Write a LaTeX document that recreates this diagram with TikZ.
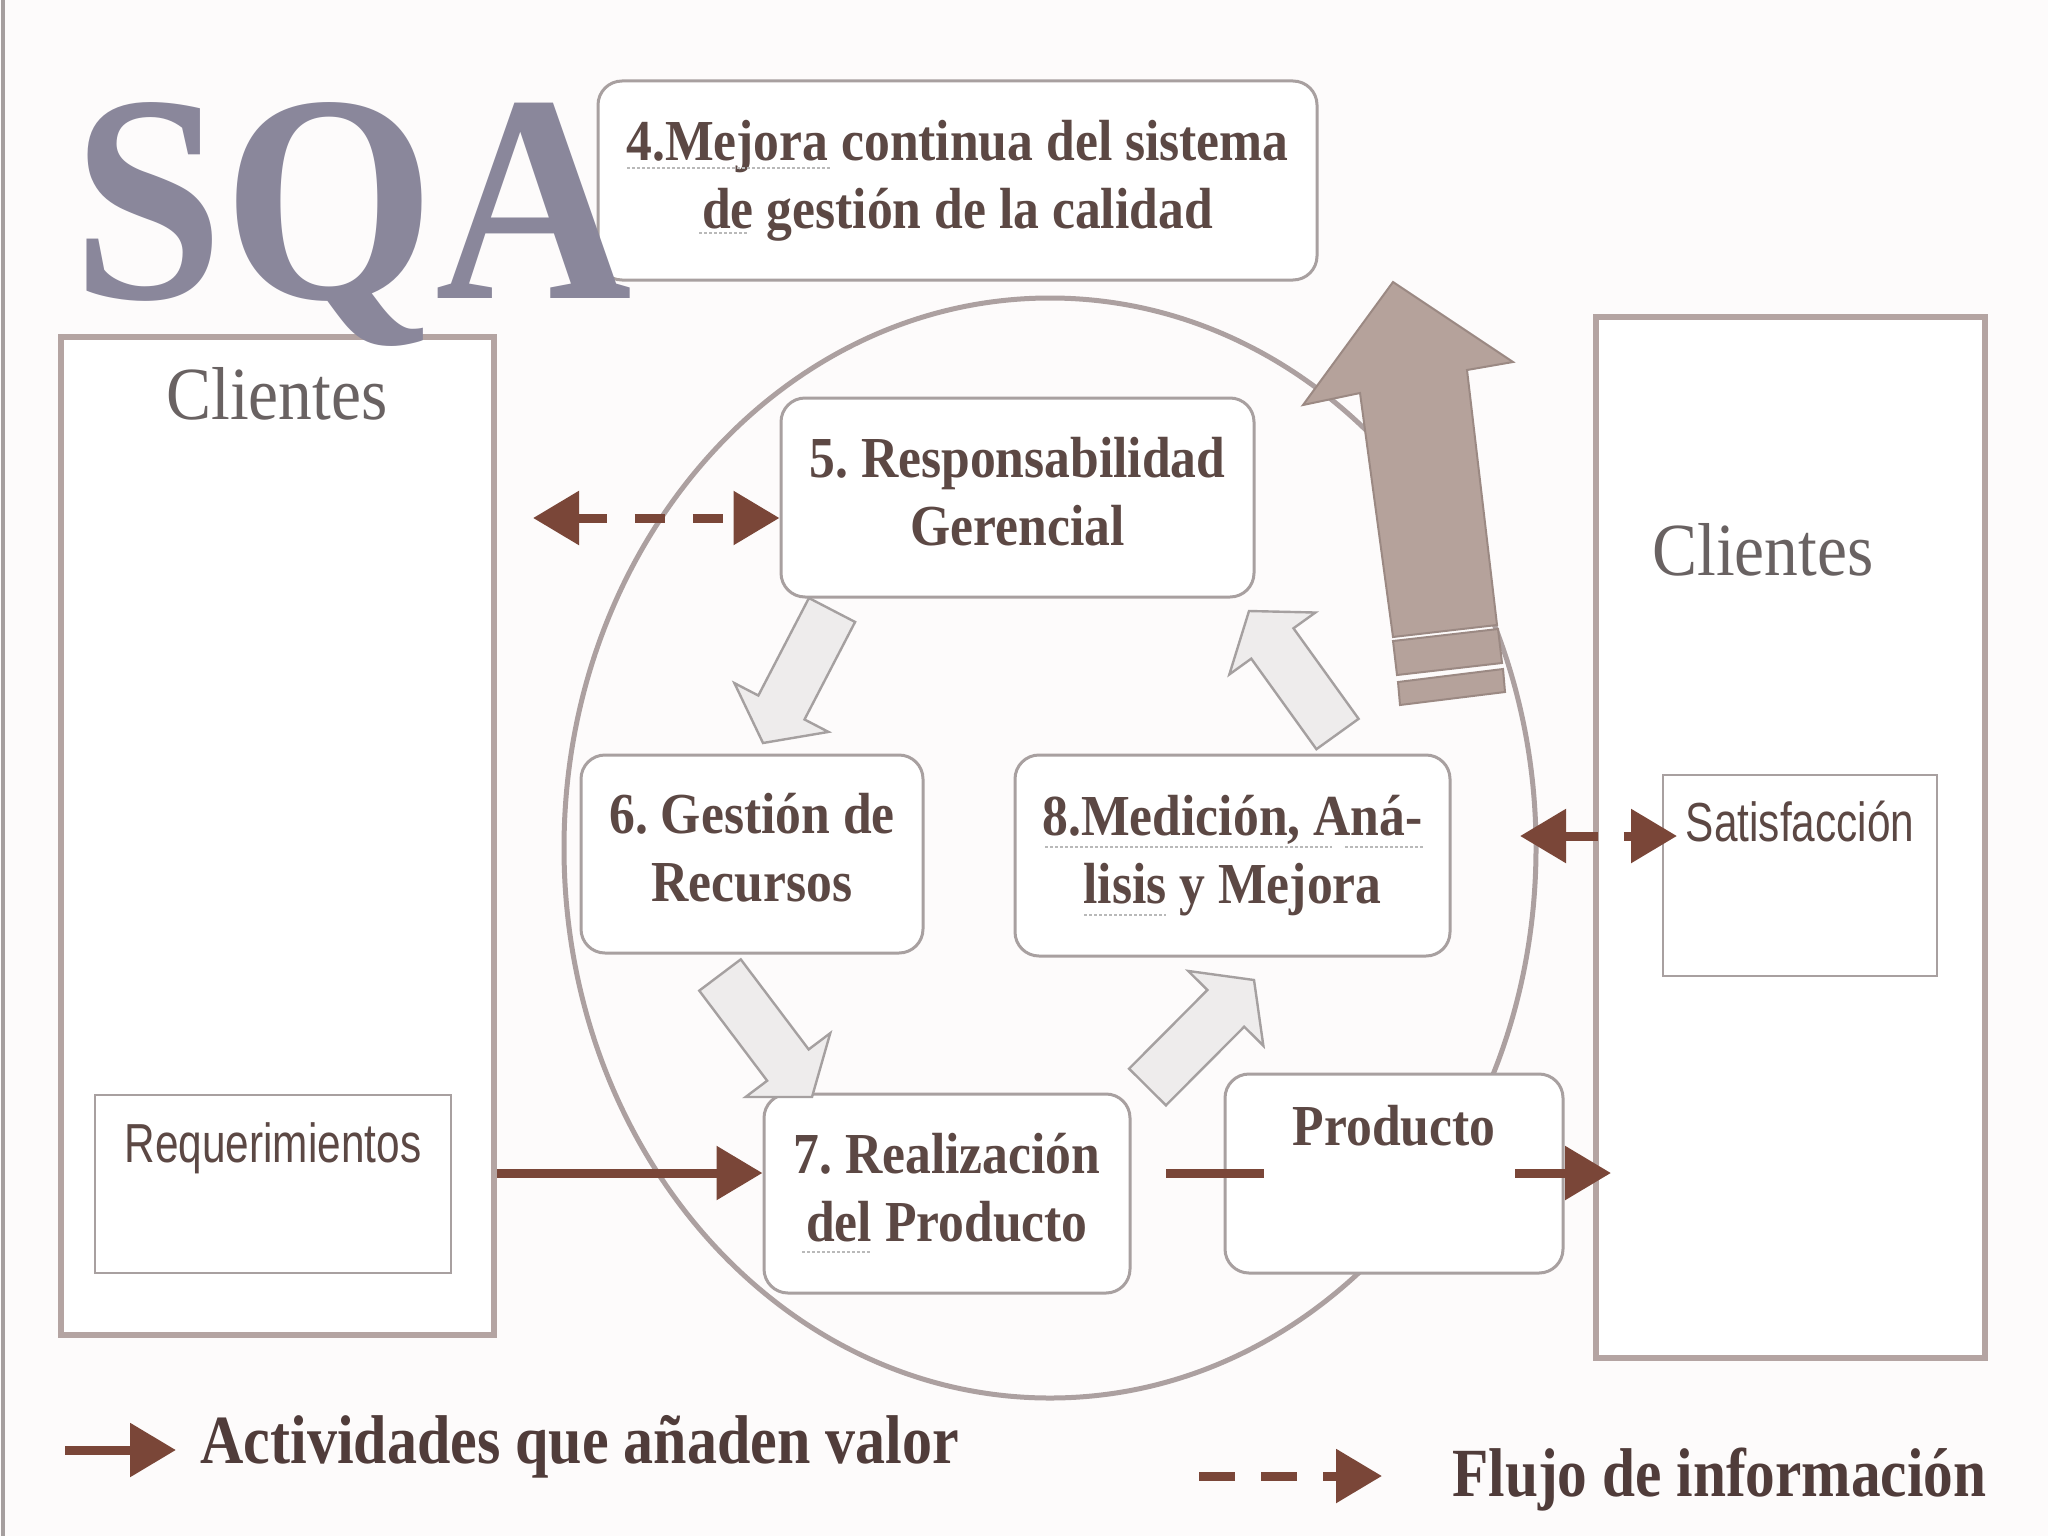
\documentclass[tikz,border=0pt]{standalone}
\usepackage{fontspec}
\setmainfont{Liberation Serif}
\newfontfamily\sansf{Liberation Sans}
\usepackage{graphicx}
\usetikzlibrary{arrows.meta,calc}
\frenchspacing

\definecolor{bg}{RGB}{253,251,251}
\definecolor{boxgray}{RGB}{168,160,160}
\definecolor{framec}{RGB}{180,164,162}
\definecolor{txtb}{RGB}{92,72,68}
\definecolor{cltxt}{RGB}{105,98,98}
\definecolor{arrowc}{RGB}{122,70,56}
\definecolor{circc}{RGB}{172,160,160}
\definecolor{sqac}{RGB}{138,135,155}
\definecolor{bigarr}{RGB}{181,162,155}
\definecolor{bigarrd}{RGB}{155,137,131}
\definecolor{hollowf}{RGB}{238,236,236}
\definecolor{hollowd}{RGB}{165,160,160}
\definecolor{legtxt}{RGB}{80,60,58}
\definecolor{edgec}{RGB}{165,158,158}

\newcommand{\cond}[2][0.89]{\scalebox{#1}[1]{\begin{tabular}{@{}c@{}}#2\end{tabular}}}
\newcommand{\boxfont}{\fontsize{29pt}{34pt}\selectfont\bfseries}
\newcommand{\clfont}{\fontsize{37.5pt}{44pt}\selectfont}
\newcommand{\sfont}{\sansf\fontsize{27.5pt}{33pt}\selectfont}
\newcommand{\legfont}{\fontsize{34.5pt}{40pt}\selectfont\bfseries}
\newcommand{\sqafont}{\fontsize{148pt}{160pt}\selectfont\bfseries}

\newcommand{\harrow}[2]{%
  \coordinate (hb) at ($(#2)!20pt!(#1)$);
  \draw[hollow] ($(#1)!13pt!90:(#2)$) -- ($(hb)!13pt!-90:(#1)$) -- ($(hb)!26.5pt!-90:(#1)$)
    -- (#2) -- ($(hb)!26.5pt!90:(#1)$) -- ($(hb)!13pt!90:(#1)$) -- ($(#1)!13pt!-90:(#2)$) -- cycle;}

\tikzset{
  rbox/.style={draw=boxgray, line width=1.5pt, rounded corners=12pt, fill=white,
    text=txtb, font=\boxfont, inner sep=0pt},
  frame/.style={draw=framec, line width=3pt, fill=white, inner sep=0pt},
  sbox/.style={draw=boxgray, line width=1.2pt, fill=white, text=txtb, font=\sfont, inner sep=0pt},
  cltext/.style={text=cltxt, font=\clfont, inner sep=0pt},
  legtext/.style={text=legtxt, font=\legfont, inner sep=0pt, anchor=west},
  tipa/.tip={Triangle[length=23pt,width=26pt]},
  valarrow/.style={draw=arrowc, line width=4.5pt, -tipa},
  plainline/.style={draw=arrowc, line width=4.5pt},
  infoarrow/.style={draw=arrowc, line width=4.5pt, dash pattern=on 15pt off 14pt, tipa-tipa},
  infosat/.style={draw=arrowc, line width=4.5pt, dash pattern=on 17pt off 13pt, tipa-tipa},
  infoleg/.style={draw=arrowc, line width=4.5pt, dash pattern=on 18pt off 13pt, -tipa},
  hollow/.style={draw=hollowd, fill=hollowf, line width=1.2pt, line join=miter},
  squig/.style={draw=gray!55, line width=1.2pt, dash pattern=on 1.5pt off 1pt},
}

\begin{document}
\begin{tikzpicture}[x=0.5pt, y=-0.5pt]
\useasboundingbox (0,0) rectangle (2048,1536);
\fill[bg] (0,0) rectangle (2048,1536);
\draw[edgec, line width=2pt] (3,0) -- (3,1536);

% circle of the cycle
\draw[circc, line width=2.5pt] (1050,848) ellipse [x radius=243pt, y radius=275pt];

% big arrow
\filldraw[fill=bigarr, draw=bigarrd, line width=1pt, line join=miter]
  (1393,282) -- (1513,362) -- (1467,370) -- (1497,625) -- (1393,637) -- (1360,393) -- (1303,405) -- cycle;
\filldraw[fill=bigarr, draw=bigarrd, line width=1pt]
  (1393,641) -- (1498,629) -- (1502,663) -- (1397,675) -- cycle;
\filldraw[fill=bigarr, draw=bigarrd, line width=1pt]
  (1398,682) -- (1503,669) -- (1505,692) -- (1400,705) -- cycle;

% customer frames
\node[frame, minimum width=216.5pt, minimum height=499pt] (cl1) at (277.5,836) {};
\node[frame, minimum width=194.5pt, minimum height=520.5pt] (cl2) at (1790.5,837.5) {};
\node[cltext] (cl1t) at (277,402) {\cond[0.9]{Clientes}};
\node[cltext] (cl2t) at (1763,558) {\cond[0.9]{Clientes}};

\node[sbox, minimum width=178pt, minimum height=89pt] (req) at (273,1184) {\cond[0.77]{Requerimientos\\[2pt]~}};
\node[sbox, minimum width=137pt, minimum height=100.5pt] (sat) at (1800,875.5) {\cond[0.77]{Satisfacción\\[14.5pt]~}};

% process boxes
\node[rbox, minimum width=359.5pt, minimum height=99.5pt] (b4) at (957.5,180.5) {\cond{4.Mejora continua del sistema\\de gestión de la calidad}};
\node[rbox, minimum width=236.5pt, minimum height=99.5pt] (b5) at (1017.5,497.5) {\cond{5. Responsabilidad\\Gerencial}};
\node[rbox, minimum width=171pt, minimum height=99pt] (b6) at (752,854) {\cond{6. Gestión de\\Recursos}};
\node[rbox, minimum width=217.5pt, minimum height=100.5pt] (b8) at (1232.5,855.5) {\cond{8.Medición, Aná-\\lisis y Mejora}};
\node[rbox, minimum width=183pt, minimum height=99.5pt] (b7) at (947,1193.5) {\cond{7. Realización\\del Producto}};
\node[rbox, minimum width=169pt, minimum height=99.5pt] (prod) at (1394,1173.5) {\cond{Producto\\[8pt]~}};

% spell-check underlines
\draw[squig] (627,168) -- (831,168);
\draw[squig] (699,233) -- (747,233);
\draw[squig] (1045,847) -- (1332,847);
\draw[squig] (1345,847) -- (1424,847);
\draw[squig] (1084,915) -- (1166,915);
\draw[squig] (802,1252) -- (872,1252);

% hollow cycle arrows
\coordinate (a1t) at (832,610);   \coordinate (a1p) at (763,743);
\coordinate (a2t) at (720,975);   \coordinate (a2p) at (812,1097);
\coordinate (a3t) at (1147.5,1087); \coordinate (a3p) at (1254,980);
\coordinate (a4t) at (1337.5,734); \coordinate (a4p) at (1249,611);
\harrow{a1t}{a1p}
\harrow{a2t}{a2p}
\harrow{a3t}{a3p}
\harrow{a4t}{a4p}

% connectors
\coordinate (dl) at (533,518);
\draw[infoarrow] (dl) -- (dl -| b5.west);
\coordinate (r1) at (497,1173);
\draw[valarrow] (r1) -- (r1 -| b7.west);
\coordinate (p1) at (1166,1173); \coordinate (p2) at (1264,1173);
\draw[plainline] (p1) -- (p2);
\coordinate (p3) at (1515,1173); \coordinate (p4) at (1611,1173);
\draw[valarrow] (p3) -- (p4);
\coordinate (s1) at (1520,836); \coordinate (s2) at (1677,836);
\draw[infosat] (s1) -- (s2);

% legend
\coordinate (l1a) at (65,1450); \coordinate (l1b) at (176,1450);
\draw[valarrow] (l1a) -- (l1b);
\node[legtext] (leg1) at (200,1447) {\cond[0.87]{Actividades que añaden valor}};
\coordinate (l2a) at (1199,1476); \coordinate (l2b) at (1382,1476);
\draw[infoleg] (l2a) -- (l2b);
\node[legtext] (leg2) at (1452,1480) {\cond[0.86]{Flujo de información}};

% title
\node[text=sqac, font=\sqafont, anchor=base west, inner sep=0pt] (sqa) at (72,298) {\scalebox{0.92}[1]{SQA}};
\end{tikzpicture}
\end{document}
